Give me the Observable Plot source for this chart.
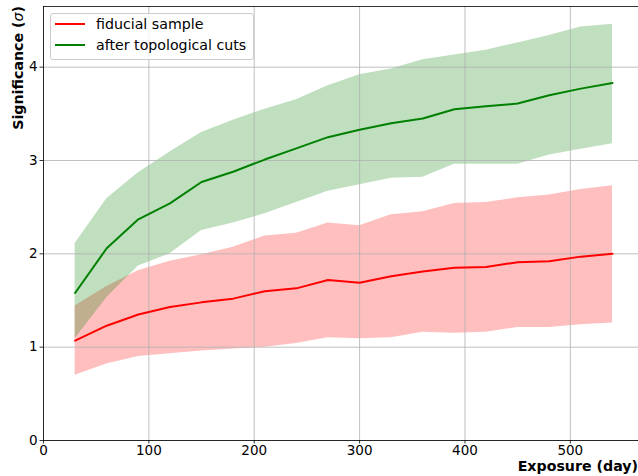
<!DOCTYPE html>
<html>
<head>
<meta charset="utf-8">
<script src="https://cdn.jsdelivr.net/npm/d3@7"></script>
<script src="https://cdn.jsdelivr.net/npm/@observablehq/plot@0.6"></script>
<style>
  body { margin: 0; background: #fff; }
  #wrap { position: relative; width: 638px; height: 476px; font-family: "DejaVu Sans", sans-serif; }
  #legend { position: absolute; left: 50px; top: 13px; width: 202px; height: 45px;
            background: rgba(255,255,255,0.8); border: 1px solid #cccccc; border-radius: 3px;
            font-size: 14.2px; color: #000; }
  .row { position: absolute; left: 0; height: 16px; display: flex; align-items: center; white-space: nowrap; }
  .sw { display: inline-block; width: 30px; height: 2px; margin-left: 4px; margin-right: 11px; }
</style>
</head>
<body>
<div id="wrap"></div>
<script>
const exposure = [30,60,90,120,150,180,210,240,270,300,330,360,390,420,450,480,510,540];
const fidMean = [1.07,1.23,1.35,1.43,1.48,1.52,1.60,1.63,1.72,1.69,1.76,1.81,1.85,1.86,1.91,1.92,1.97,2.00];
const fidLow  = [0.70,0.82,0.90,0.93,0.96,0.98,1.00,1.04,1.10,1.09,1.10,1.16,1.15,1.16,1.21,1.21,1.24,1.26];
const fidHigh = [1.44,1.65,1.82,1.92,1.99,2.07,2.19,2.22,2.33,2.30,2.42,2.45,2.54,2.55,2.60,2.63,2.69,2.73];
const topoMean = [1.58,2.06,2.37,2.54,2.77,2.88,3.01,3.13,3.25,3.33,3.40,3.45,3.55,3.58,3.61,3.70,3.77,3.83];
const topoLow  = [1.09,1.53,1.87,2.00,2.25,2.33,2.43,2.55,2.67,2.74,2.81,2.82,2.96,2.96,2.96,3.06,3.12,3.18];
const topoHigh = [2.11,2.59,2.87,3.09,3.30,3.43,3.55,3.65,3.80,3.92,3.98,4.08,4.13,4.18,4.26,4.34,4.43,4.46];
const xTicks = [0,100,200,300,400,500];
const yTicks = [0,1,2,3,4];
const seriesNames = ["fiducial sample", "after topological cuts"];
const seriesColors = ["red", "green"];

const fid = exposure.map((x,i) => ({x, m: fidMean[i], lo: fidLow[i], hi: fidHigh[i]}));
const topo = exposure.map((x,i) => ({x, m: topoMean[i], lo: topoLow[i], hi: topoHigh[i]}));

const xMax = 564.7, yMax = 4.65;

const chart = Plot.plot({
  width: 638, height: 476,
  marginLeft: 43, marginRight: 0, marginTop: 6, marginBottom: 36,
  style: { fontFamily: "DejaVu Sans", fontSize: "13.5px", color: "#000", background: "#fff" },
  x: { domain: [0, xMax] },
  y: { domain: [0, yMax] },
  marks: [
    Plot.areaY(fid, { x: "x", y1: "lo", y2: "hi", fill: seriesColors[0], fillOpacity: 0.25 }),
    Plot.areaY(topo, { x: "x", y1: "lo", y2: "hi", fill: seriesColors[1], fillOpacity: 0.25 }),
    Plot.gridX({ ticks: xTicks, stroke: "#b0b0b0", strokeOpacity: 1, strokeWidth: 0.8 }),
    Plot.gridY({ ticks: yTicks, stroke: "#b0b0b0", strokeOpacity: 1, strokeWidth: 0.8 }),
    Plot.lineY(fid, { x: "x", y: "m", stroke: seriesColors[0], strokeWidth: 2 }),
    Plot.lineY(topo, { x: "x", y: "m", stroke: seriesColors[1], strokeWidth: 2 }),
    Plot.axisX({ ticks: xTicks, tickFormat: "d", tickSize: 3.5, tickPadding: 1.5, label: null, stroke: "#000", strokeWidth: 0.8 }),
    Plot.axisY({ ticks: yTicks, tickFormat: "d", tickSize: 3.5, tickPadding: 2.5, label: null, stroke: "#000", strokeWidth: 0.8 }),
    Plot.ruleX([0], { stroke: "#000", strokeWidth: 0.8 }),
    Plot.ruleY([0, yMax], { stroke: "#000", strokeWidth: 0.8 })
  ]
});

const wrap = document.getElementById("wrap");
wrap.appendChild(chart);

const svg = d3.select(chart);
const yl = svg.append("text")
  .attr("transform", "translate(23,6) rotate(-90)")
  .attr("text-anchor", "end")
  .attr("font-family", "DejaVu Sans")
  .attr("font-size", "14.2px")
  .attr("font-weight", "bold")
  .attr("fill", "#000");
yl.append("tspan").text("Significance (");
yl.append("tspan").attr("font-style", "italic").attr("font-weight", "normal").text("σ");
yl.append("tspan").text(")");

svg.append("text")
  .attr("x", 638).attr("y", 471)
  .attr("text-anchor", "end")
  .attr("font-family", "DejaVu Sans")
  .attr("font-size", "14.2px")
  .attr("font-weight", "bold")
  .attr("fill", "#000")
  .text("Exposure (day)");

const leg = document.createElement("div");
leg.id = "legend";
seriesNames.forEach((name, i) => {
  const row = document.createElement("div");
  row.className = "row";
  row.style.top = (2 + i * 21) + "px";
  const sw = document.createElement("span");
  sw.className = "sw";
  sw.style.background = seriesColors[i];
  const t = document.createElement("span");
  t.textContent = name;
  row.appendChild(sw);
  row.appendChild(t);
  leg.appendChild(row);
});
wrap.appendChild(leg);
</script>
</body>
</html>
